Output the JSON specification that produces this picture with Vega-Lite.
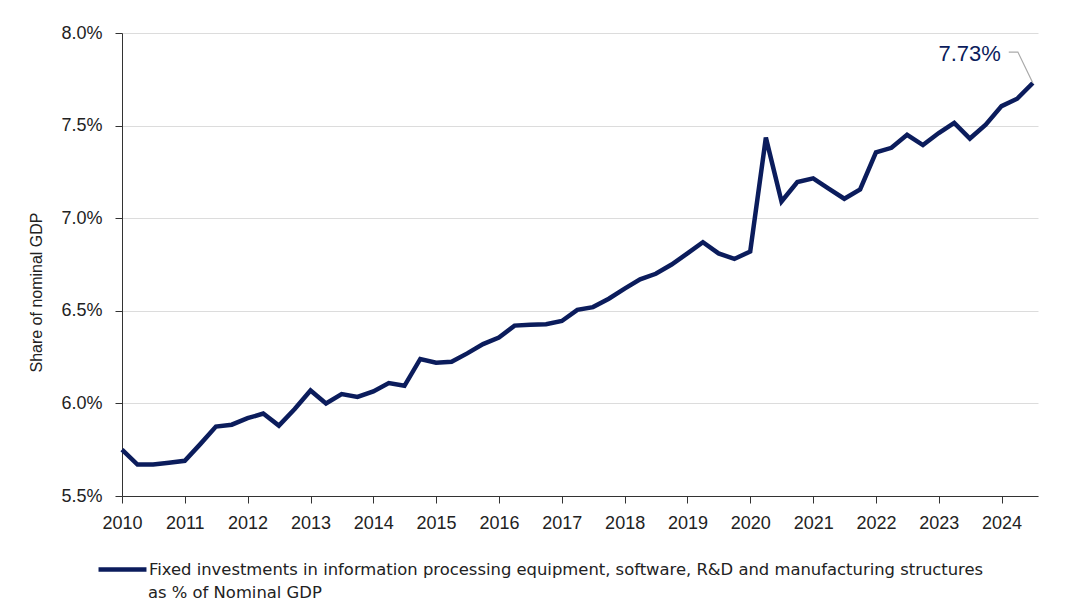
{
  "$schema": "https://vega.github.io/schema/vega-lite/v6.json",
  "width": 916,
  "height": 463,
  "autosize": {"type": "none"},
  "padding": {"left": 122, "top": 33, "right": 27, "bottom": 115},
  "background": "white",
  "config": {
    "view": {"stroke": null},
    "font": "Liberation Sans"
  },
  "datasets": {
    "series": [
      {"date": "2010-01-01", "value": 5.75}, {"date": "2010-04-01", "value": 5.67}, {"date": "2010-07-01", "value": 5.67}, {"date": "2010-10-01", "value": 5.68},
      {"date": "2011-01-01", "value": 5.69}, {"date": "2011-04-01", "value": 5.78}, {"date": "2011-07-01", "value": 5.875}, {"date": "2011-10-01", "value": 5.885},
      {"date": "2012-01-01", "value": 5.92}, {"date": "2012-04-01", "value": 5.945}, {"date": "2012-07-01", "value": 5.88}, {"date": "2012-10-01", "value": 5.97},
      {"date": "2013-01-01", "value": 6.07}, {"date": "2013-04-01", "value": 6.0}, {"date": "2013-07-01", "value": 6.05}, {"date": "2013-10-01", "value": 6.035},
      {"date": "2014-01-01", "value": 6.065}, {"date": "2014-04-01", "value": 6.11}, {"date": "2014-07-01", "value": 6.095}, {"date": "2014-10-01", "value": 6.24},
      {"date": "2015-01-01", "value": 6.22}, {"date": "2015-04-01", "value": 6.225}, {"date": "2015-07-01", "value": 6.27}, {"date": "2015-10-01", "value": 6.32},
      {"date": "2016-01-01", "value": 6.355}, {"date": "2016-04-01", "value": 6.42}, {"date": "2016-07-01", "value": 6.425}, {"date": "2016-10-01", "value": 6.428},
      {"date": "2017-01-01", "value": 6.445}, {"date": "2017-04-01", "value": 6.505}, {"date": "2017-07-01", "value": 6.52}, {"date": "2017-10-01", "value": 6.565},
      {"date": "2018-01-01", "value": 6.62}, {"date": "2018-04-01", "value": 6.67}, {"date": "2018-07-01", "value": 6.7}, {"date": "2018-10-01", "value": 6.75},
      {"date": "2019-01-01", "value": 6.81}, {"date": "2019-04-01", "value": 6.87}, {"date": "2019-07-01", "value": 6.81}, {"date": "2019-10-01", "value": 6.78},
      {"date": "2020-01-01", "value": 6.82}, {"date": "2020-04-01", "value": 7.435}, {"date": "2020-07-01", "value": 7.09}, {"date": "2020-10-01", "value": 7.195},
      {"date": "2021-01-01", "value": 7.215}, {"date": "2021-04-01", "value": 7.16}, {"date": "2021-07-01", "value": 7.105}, {"date": "2021-10-01", "value": 7.155},
      {"date": "2022-01-01", "value": 7.355}, {"date": "2022-04-01", "value": 7.38}, {"date": "2022-07-01", "value": 7.45}, {"date": "2022-10-01", "value": 7.395},
      {"date": "2023-01-01", "value": 7.46}, {"date": "2023-04-01", "value": 7.515}, {"date": "2023-07-01", "value": 7.43}, {"date": "2023-10-01", "value": 7.505},
      {"date": "2024-01-01", "value": 7.605}, {"date": "2024-04-01", "value": 7.645}, {"date": "2024-07-01", "value": 7.73}
    ],
    "callout": [
      {"date": "2024-07-01", "value": 7.73, "label": "7.73%"}
    ],
    "leader": [
      {"date": "2024-02-12", "value": 7.897, "order": 1},
      {"date": "2024-04-05", "value": 7.897, "order": 2},
      {"date": "2024-07-01", "value": 7.73, "order": 3}
    ]
  },
  "layer": [
    {
      "data": {"name": "series"},
      "transform": [{"calculate": "'Fixed investments in information processing equipment, software, R&D and manufacturing structures'", "as": "series"}],
      "mark": {"type": "line", "strokeWidth": 4.5, "strokeJoin": "miter", "strokeCap": "butt"},
      "encoding": {
        "x": {
          "field": "date", "type": "temporal",
          "scale": {"domain": ["2010-01-01", "2024-07-31"], "nice": false},
          "axis": {
            "title": null, "format": "%Y",
            "tickCount": {"interval": "year", "step": 1},
            "grid": false, "domainColor": "#333333", "domainWidth": 1,
            "tickColor": "#333333", "tickSize": 7, "labelPadding": 11,
            "labelFont": "Liberation Sans", "labelFontSize": 18, "labelColor": "#222222",
            "labelFlush": false, "labelOverlap": false
          }
        },
        "y": {
          "field": "value", "type": "quantitative",
          "scale": {"domain": [5.5, 8.0], "nice": false, "zero": false},
          "axis": {
            "title": "Share of nominal GDP",
            "values": [5.5, 6.0, 6.5, 7.0, 7.5, 8.0],
            "labelExpr": "format(datum.value, '.1f') + '%'",
            "grid": true, "gridColor": "#dcdcdc", "gridWidth": 1,
            "domainColor": "#333333", "tickColor": "#333333", "tickSize": 7, "labelPadding": 13,
            "labelFont": "Liberation Sans", "labelFontSize": 18, "labelColor": "#222222",
            "titleFont": "Liberation Sans", "titleFontSize": 16, "titleFontWeight": "normal", "titleColor": "#222222",
            "titleX": -86, "titleY": 259, "titleBaseline": "middle", "titleAlign": "center", "titleAngle": -90
          }
        },
        "color": {
          "field": "series", "type": "nominal",
          "scale": {"range": ["#0b1c5c"]},
          "legend": {
            "title": "as % of Nominal GDP", "titleOrient": "bottom", "titleAnchor": "start", "titleAlign": "left",
            "titleFont": "DejaVu Sans", "titleFontSize": 16.4, "titleFontWeight": "normal", "titleColor": "#222222",
            "titleBaseline": "middle", "titlePadding": 0, "titleLimit": 2000,
            "orient": "none", "legendX": -26, "legendY": 510,
            "symbolType": "stroke", "symbolSize": 2300, "symbolStrokeWidth": 4.5,
            "labelFont": "DejaVu Sans", "labelFontSize": 16.4, "labelColor": "#222222",
            "labelLimit": 2000, "labelOffset": 0, "padding": 0, "labelBaseline": "middle",
            "encode": {"title": {"update": {"dx": {"value": 52}, "dy": {"value": 14}}}}
          }
        }
      }
    },
    {
      "data": {"name": "leader"},
      "mark": {"type": "line", "color": "#aaaaaa", "strokeWidth": 1.2},
      "encoding": {
        "x": {"field": "date", "type": "temporal"},
        "y": {"field": "value", "type": "quantitative"},
        "order": {"field": "order"}
      }
    },
    {
      "data": {"name": "callout"},
      "mark": {"type": "text", "align": "right", "baseline": "middle", "dx": -32, "dy": -29, "fontSize": 22, "font": "Liberation Sans", "color": "#0b1c5c"},
      "encoding": {
        "x": {"field": "date", "type": "temporal"},
        "y": {"field": "value", "type": "quantitative"},
        "text": {"field": "label"}
      }
    }
  ]
}
